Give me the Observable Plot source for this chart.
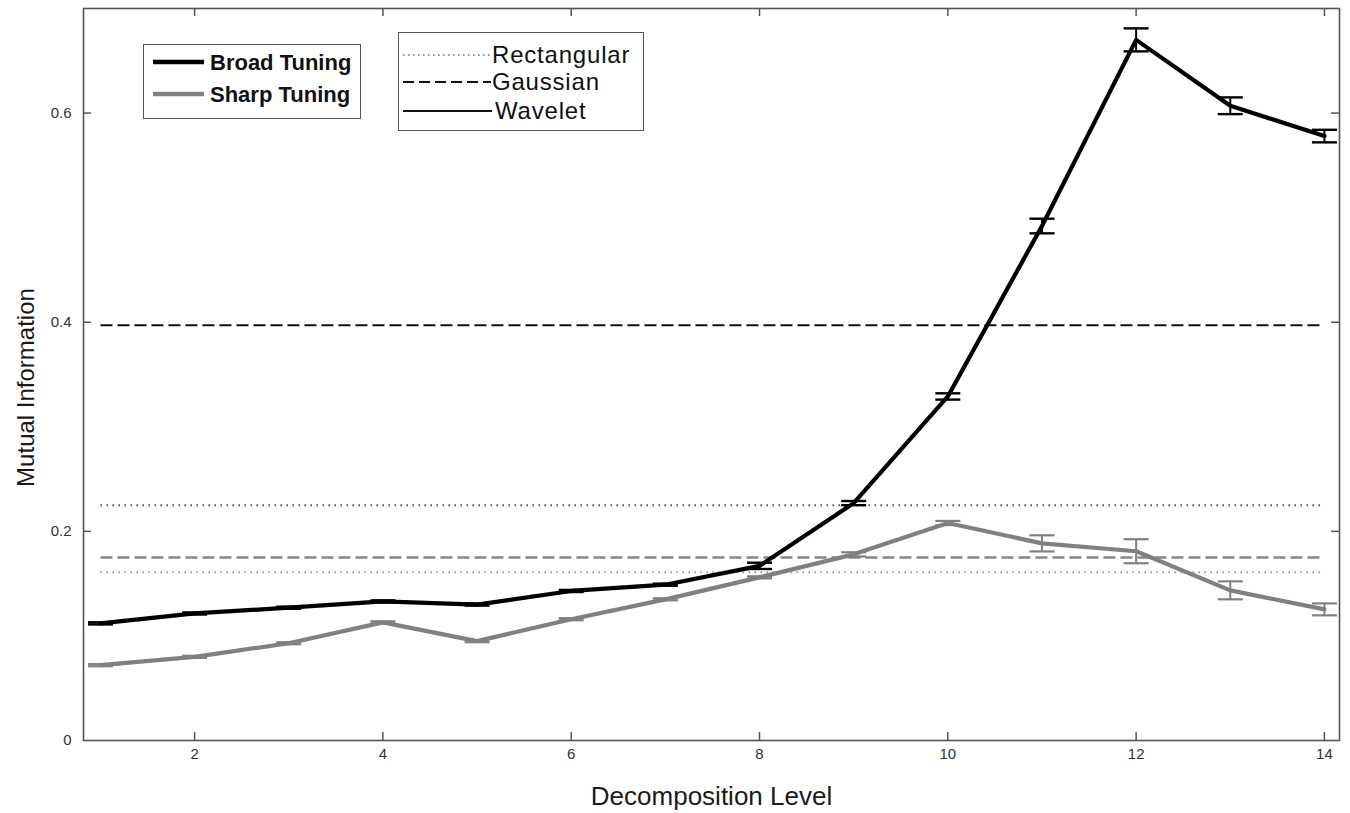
<!DOCTYPE html>
<html>
<head>
<meta charset="utf-8">
<script src="https://cdn.jsdelivr.net/npm/d3@7"></script>
<script src="https://cdn.jsdelivr.net/npm/@observablehq/plot@0.6"></script>
<style>
  body { margin: 0; background: #fff; }
  #wrap { position: relative; width: 1350px; height: 813px; }
  .legend { position: absolute; box-sizing: border-box; border: 1.6px solid #555; background: #fff; }
  .legend svg { display: block; overflow: visible; }
</style>
</head>
<body>
<div id="wrap"></div>
<script>
// ---- data ----
const levels = [1, 2, 3, 4, 5, 6, 7, 8, 9, 10, 11, 12, 13, 14];
const broadMI = [0.112, 0.1215, 0.127, 0.133, 0.130, 0.143, 0.149, 0.167, 0.227, 0.329, 0.492, 0.670, 0.607, 0.578];
const broadErr = [0.001, 0.001, 0.001, 0.001, 0.001, 0.001, 0.001, 0.003, 0.002, 0.003, 0.007, 0.011, 0.008, 0.006];
const sharpMI = [0.072, 0.080, 0.093, 0.113, 0.095, 0.116, 0.135, 0.156, 0.178, 0.208, 0.1885, 0.181, 0.1436, 0.1254];
const sharpErr = [0.001, 0.001, 0.001, 0.001, 0.001, 0.001, 0.001, 0.001, 0.002, 0.002, 0.0077, 0.0115, 0.0086, 0.0057];
// reference (non-wavelet) methods: [Rectangular, Gaussian]
const refMethods = ["Rectangular", "Gaussian"];
const broadRef = [0.225, 0.397];
const sharpRef = [0.161, 0.175];
const refSpan = [1, 14];
const xTicks = [2, 4, 6, 8, 10, 12, 14];
const yTicks = [0, 0.2, 0.4, 0.6];
const yMirrorTicks = [0.2, 0.4, 0.6];

// ---- tables ----
const broad = levels.map((x, i) => ({x, y: broadMI[i], lo: broadMI[i] - broadErr[i], hi: broadMI[i] + broadErr[i]}));
const sharp = levels.map((x, i) => ({x, y: sharpMI[i], lo: sharpMI[i] - sharpErr[i], hi: sharpMI[i] + sharpErr[i]}));
const refRows = [];
refMethods.forEach((m, i) => {
  refSpan.forEach(x => refRows.push({method: m, tuning: "Broad", key: "B" + m, x, y: broadRef[i]}));
  refSpan.forEach(x => refRows.push({method: m, tuning: "Sharp", key: "S" + m, x, y: sharpRef[i]}));
});
const refStyle = {
  BRectangular: {stroke: "#555", dash: "1.6,4.4", w: 2},
  BGaussian: {stroke: "#111", dash: "12,5", w: 2},
  SRectangular: {stroke: "#999", dash: "1.6,4.4", w: 2},
  SGaussian: {stroke: "#888", dash: "12,5", w: 2.5}
};

const capSymbol = {draw(ctx) { ctx.moveTo(-12.5, 0); ctx.lineTo(12.5, 0); }};

const W = 1350, H = 813, mL = 83, mR = 11, mT = 8, mB = 73;
const plotW = W - mL - mR, plotH = H - mT - mB;
const frameColor = "#555";
const font = "'Liberation Sans', Arial, sans-serif";

const refMarks = Object.keys(refStyle).map(k =>
  Plot.line(refRows.filter(d => d.key === k), {
    x: "x", y: "y", stroke: refStyle[k].stroke, strokeWidth: refStyle[k].w,
    strokeDasharray: refStyle[k].dash, strokeLinecap: "butt"
  })
);

const chart = Plot.plot({
  width: W, height: H,
  marginLeft: mL, marginRight: mR, marginTop: mT, marginBottom: mB,
  x: {domain: [0.82, 14.16], label: null},
  y: {domain: [0, 0.7], label: null},
  style: {fontFamily: font, background: "#fff", color: "#333"},
  marks: [
    ...refMarks,
    // sharp tuning
    Plot.line(sharp, {x: "x", y: "y", stroke: "#808080", strokeWidth: 4.2, strokeLinejoin: "round"}),
    Plot.ruleX(sharp, {x: "x", y1: "lo", y2: "hi", stroke: "#808080", strokeWidth: 2}),
    Plot.dot(sharp, {x: "x", y: "lo", symbol: capSymbol, stroke: "#808080", strokeWidth: 2.2, fill: "none"}),
    Plot.dot(sharp, {x: "x", y: "hi", symbol: capSymbol, stroke: "#808080", strokeWidth: 2.2, fill: "none"}),
    // broad tuning
    Plot.line(broad, {x: "x", y: "y", stroke: "#000", strokeWidth: 4.2, strokeLinejoin: "round"}),
    Plot.ruleX(broad, {x: "x", y1: "lo", y2: "hi", stroke: "#000", strokeWidth: 2}),
    Plot.dot(broad, {x: "x", y: "lo", symbol: capSymbol, stroke: "#000", strokeWidth: 2.4, fill: "none"}),
    Plot.dot(broad, {x: "x", y: "hi", symbol: capSymbol, stroke: "#000", strokeWidth: 2.4, fill: "none"}),
    // frame and inward ticks (mirrored)
    Plot.frame({stroke: frameColor, strokeWidth: 1.6}),
    Plot.tickX(xTicks, {x: d => d, stroke: frameColor, strokeWidth: 1.5, insetTop: plotH - 8}),
    Plot.tickX(xTicks, {x: d => d, stroke: frameColor, strokeWidth: 1.5, insetBottom: plotH - 8}),
    Plot.tickY(yMirrorTicks, {y: d => d, stroke: frameColor, strokeWidth: 1.5, insetRight: plotW - 8}),
    Plot.tickY(yMirrorTicks, {y: d => d, stroke: frameColor, strokeWidth: 1.5, insetLeft: plotW - 8}),
    // tick labels
    Plot.axisX(xTicks, {tickSize: 0, tickPadding: 8, fontSize: 15, fill: "#333", label: null}),
    Plot.axisY(yTicks, {tickSize: 0, tickPadding: 12, fontSize: 15, fill: "#333", label: null, tickFormat: d => d === 0 ? "0" : d3.format(".1f")(d)}),
    // axis titles
    Plot.text(["Decomposition Level"], {text: d => d, frameAnchor: "bottom", dy: 64, lineAnchor: "bottom", textAnchor: "middle", fontSize: 26, fill: "#1a1a1a"}),
    Plot.text(["Mutual Information"], {text: d => d, frameAnchor: "left", dx: -50, dy: 13, rotate: -90, lineAnchor: "bottom", textAnchor: "middle", fontSize: 24, fill: "#1a1a1a"})
  ]
});

const wrap = document.getElementById("wrap");
wrap.appendChild(chart);

// ---- legends ----
function makeLegend(left, top, width, height, items, fontSize, fontWeight, letterSpacing) {
  const div = document.createElement("div");
  div.className = "legend";
  Object.assign(div.style, {left: left + "px", top: top + "px", width: width + "px", height: height + "px"});
  const svg = d3.create("svg").attr("width", width - 3).attr("height", height - 3);
  items.forEach(it => {
    svg.append("line")
      .attr("x1", it.x1).attr("x2", it.x2).attr("y1", it.y).attr("y2", it.y)
      .attr("stroke", it.stroke).attr("stroke-width", it.w)
      .attr("stroke-dasharray", it.dash || null);
    svg.append("text")
      .attr("x", it.tx).attr("y", it.y).attr("dy", "0.35em")
      .attr("font-family", font).attr("font-size", fontSize)
      .attr("font-weight", fontWeight).attr("letter-spacing", letterSpacing)
      .attr("fill", "#111").text(it.label);
  });
  div.appendChild(svg.node());
  wrap.appendChild(div);
}

makeLegend(143, 44, 218, 75, [
  {label: "Broad Tuning", x1: 9, x2: 60, y: 17, tx: 66, stroke: "#000", w: 4.5},
  {label: "Sharp Tuning", x1: 9, x2: 60, y: 49, tx: 66, stroke: "#808080", w: 4.5}
], 22, "bold", 0);

makeLegend(398, 32, 246, 99, [
  {label: "Rectangular", x1: 4, x2: 92, y: 22, tx: 93, stroke: "#777", w: 1.6, dash: "1.6,3.4"},
  {label: "Gaussian", x1: 4, x2: 92, y: 49, tx: 93, stroke: "#111", w: 2, dash: "11,5"},
  {label: "Wavelet", x1: 4, x2: 93, y: 78, tx: 96, stroke: "#111", w: 2}
], 24, "normal", "0.8px");
</script>
</body>
</html>
